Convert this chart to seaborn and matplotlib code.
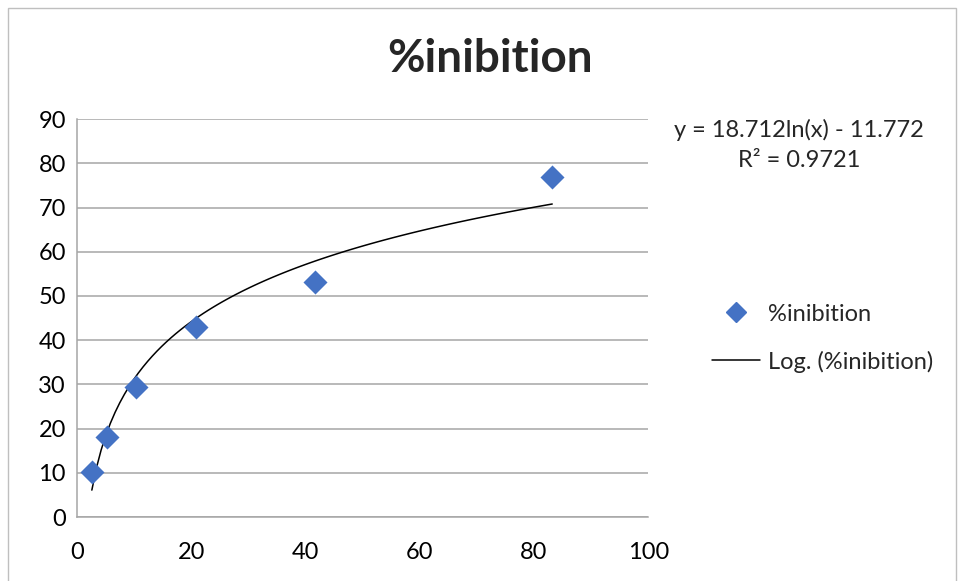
import numpy as np
import pandas as pd
import matplotlib
matplotlib.use("Agg")
import matplotlib.pyplot as plt
import seaborn as sns
from matplotlib.lines import Line2D
from matplotlib.patches import Rectangle

# datos
concentracion = [2.6, 5.2, 10.4, 20.8, 41.6, 83.2]
inhibicion = [10.1, 18.1, 29.4, 43.0, 53.2, 76.9]
ecuacion = "y = 18.712ln(x) - 11.772"
r2_texto = "R² = 0.9721"
titulo = "%inibition"
x_ticks = [0, 20, 40, 60, 80, 100]
y_ticks = [0, 10, 20, 30, 40, 50, 60, 70, 80, 90]

sns.set_theme(style="white")
plt.rcParams['font.family'] = ['Lato', 'DejaVu Sans']

df = pd.DataFrame({"x": concentracion, "y": inhibicion})

fig = plt.figure(figsize=(9.6, 5.81), dpi=100)
ax = fig.add_axes([0.0802, 0.110, 0.595, 0.685])

grid_col = "#a6a6a6"
azul = "#4472C4"

# linea de tendencia logaritmica (ajuste y ~ ln(x))
sns.regplot(data=df, x="x", y="y", logx=True, scatter=False, ci=None,
            truncate=True, color="black", line_kws={"lw": 1.1}, ax=ax)
sns.scatterplot(data=df, x="x", y="y", marker="D", s=150, color=azul,
                edgecolor=azul, linewidth=0, ax=ax, zorder=3)

ax.set_xlim(0, 100)
ax.set_ylim(0, 90)
ax.set_xticks(x_ticks)
ax.set_yticks(y_ticks)
ax.set_xlabel("")
ax.set_ylabel("")
ax.yaxis.grid(True, color=grid_col, lw=1.1)
ax.xaxis.grid(False)
for s in ["top", "right"]:
    ax.spines[s].set_visible(False)
for s in ["left", "bottom"]:
    ax.spines[s].set_color(grid_col)
    ax.spines[s].set_linewidth(1.1)
ax.tick_params(axis="both", which="major", direction="out", length=6,
               width=1.1, color=grid_col, labelsize=17, labelcolor="black", pad=2)
ax.tick_params(axis="x", pad=12)

fig.text(0.51, 0.898, titulo, ha="center", va="center", fontsize=33,
         fontweight="bold")

fig.text(0.832, 0.776, ecuacion, ha="center", va="center", fontsize=17)
fig.text(0.832, 0.724, r2_texto, ha="center", va="center", fontsize=17)

handles = [
    Line2D([], [], marker="D", color=azul, lw=0, markersize=10),
    Line2D([], [], color="black", lw=1.1),
]
fig.legend(handles, [titulo, "Log. (%inibition)"], loc="center left",
           bbox_to_anchor=(0.742, 0.418), frameon=False, fontsize=17,
           borderpad=0, borderaxespad=0,
           handlelength=2.0, handletextpad=0.35, labelspacing=1.1)

fig.patches.append(Rectangle((0.008, -0.01), 0.988, 0.997, transform=fig.transFigure,
                             fill=False, edgecolor="#bfbfbf", lw=1.0))

fig.savefig("out.png", dpi=100)
